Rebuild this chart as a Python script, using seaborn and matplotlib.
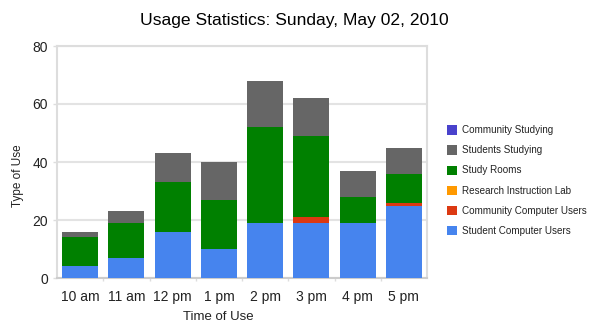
import matplotlib
matplotlib.use("Agg")
import matplotlib.pyplot as plt
from matplotlib.patches import Patch
import seaborn as sns
import numpy as np

times = ["10 am", "11 am", "12 pm", "1 pm", "2 pm", "3 pm", "4 pm", "5 pm"]
student_computer = [4, 7, 16, 10, 19, 19, 19, 25]
community_computer = [0, 0, 0, 0, 0, 2, 0, 1]
research_lab = [0, 0, 0, 0, 0, 0, 0, 0]
study_rooms = [10, 12, 17, 17, 33, 28, 9, 10]
students_studying = [2, 4, 10, 13, 16, 13, 9, 9]
community_studying = [0, 0, 0, 0, 0, 0, 0, 0]

series_names = ["Student Computer Users", "Community Computer Users",
                "Research Instruction Lab", "Study Rooms",
                "Students Studying", "Community Studying"]
series_values = [student_computer, community_computer, research_lab,
                 study_rooms, students_studying, community_studying]
colors = ["#4684ee", "#dc3912", "#ff9900", "#008000", "#666666", "#4942cc"]

sns.set_style("white")
plt.rcParams["font.family"] = ["Liberation Sans", "DejaVu Sans"]

fig = plt.figure(figsize=(5.9, 3.32), dpi=100)
ax = fig.add_axes([57 / 590, 54 / 332, 370 / 590, 232 / 332])

bottom = np.zeros(len(times))
for name, vals, col in zip(series_names, series_values, colors):
    sns.barplot(x=times, y=vals, bottom=bottom, color=col, width=0.78,
                errorbar=None, linewidth=0, saturation=1, ax=ax, zorder=3)
    bottom = bottom + np.array(vals)

ax.set_ylim(0, 80)
ax.set_xlim(-0.5, len(times) - 0.5)
ax.set_yticks([0, 20, 40, 60, 80])
ax.yaxis.grid(True, color="#e3e3e3", linewidth=1.5, zorder=0)
ax.set_axisbelow(True)
for s in ax.spines.values():
    s.set_visible(True)
    s.set_color("#dddddd")
    s.set_linewidth(1.5)
ax.spines["bottom"].set_color("#cccccc")

ax.tick_params(axis="y", left=True, length=3, width=1, color="#dddddd",
               pad=3.5, labelsize=10, labelcolor="#222222")
ax.tick_params(axis="x", bottom=False, pad=5, labelsize=10, labelcolor="#222222")
ax.set_xticks(np.arange(0.5, len(times) - 1, 1.0), minor=True)
ax.tick_params(axis="x", which="minor", bottom=True, length=2.5, width=1,
               color="#dddddd")

ax.set_xlabel("Time of Use", fontsize=9.5, color="#222222")
ax.xaxis.set_label_coords((218.5 - 57) / 370, (278 - 316.5) / 232)
ax.xaxis.label.set_verticalalignment("center")
ax.set_ylabel("Type of Use", fontsize=8.5, color="#222222")
ax.yaxis.set_label_coords((18 - 57) / 370, (278 - 175.5) / 232)
ax.yaxis.label.set_verticalalignment("center")

fig.text(294.5 / 590, 1 - 21 / 332, "Usage Statistics: Sunday, May 02, 2010",
         ha="center", va="center", fontsize=12.6, color="#000000")

handles = [Patch(facecolor=c, edgecolor="none") for c in colors[::-1]]
labels = series_names[::-1]
leg = fig.legend(handles, labels, loc="center left",
                 bbox_to_anchor=(447 / 590, 1 - 180.5 / 332),
                 frameon=False, fontsize=7.1, handlelength=1.05,
                 handleheight=1.05, handletextpad=0.45, labelspacing=1.02,
                 borderaxespad=0, borderpad=0)
for t in leg.get_texts():
    t.set_color("#222222")

fig.savefig("out.png", dpi=100)
